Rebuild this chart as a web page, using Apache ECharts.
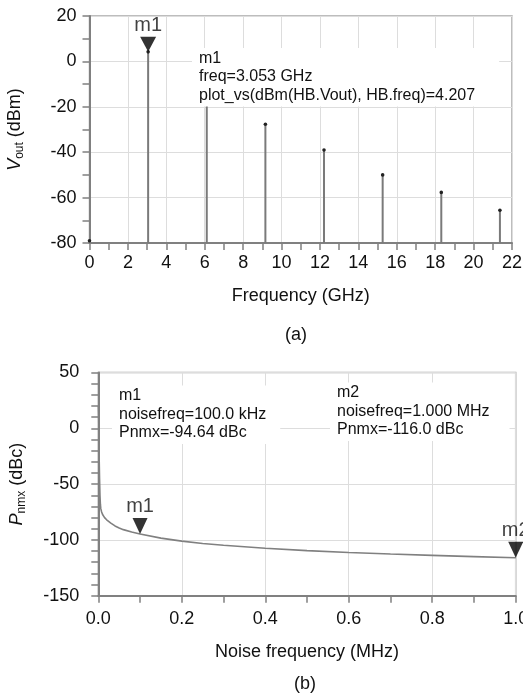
<!DOCTYPE html>
<html>
<head>
<meta charset="utf-8">
<script src="https://cdn.jsdelivr.net/npm/echarts@6/dist/echarts.min.js"></script>
<style>
html,body{margin:0;padding:0;background:#fff;}
#c{width:523px;height:698px;}
</style>
</head>
<body>
<div id="c"></div>
<script>
// ---------- Data: (a) harmonic spectrum ----------
const harmFreqGHz = [0, 3.053, 6.106, 9.159, 12.212, 15.265, 18.318, 21.371];
const harmVoutDbm = [-79, 4.207, -14, -27.7, -39.0, -50.0, -57.7, -65.6];
const markerA = [[3.053, 4.207]];
const axisAX = {min: 0, max: 22, interval: 2};
const axisAY = {min: -80, max: 20, interval: 20};

// ---------- Data: (b) phase noise ----------
const noiseFreqMHz = [0.0002, 0.001, 0.0015, 0.002, 0.003, 0.004, 0.005, 0.006, 0.008, 0.01,
  0.015, 0.02, 0.03, 0.04, 0.05, 0.06, 0.08, 0.1, 0.15, 0.2, 0.25, 0.3, 0.4, 0.5, 0.6, 0.7, 0.8, 0.9, 1.0];
const pnmxDbc = [20, 10, -10, -25, -45, -60, -68, -72, -75, -77,
  -80, -82, -85, -87.5, -89.3, -90.8, -93, -94.64, -98.4, -101.1, -103.2, -104.8, -107.5, -109.6, -111.3, -112.7, -113.9, -115.0, -116.0];
const markersB = [[0.1, -94.64, 'm1'], [1.0, -116.0, 'm2']];
const axisBX = {min: 0, max: 1, interval: 0.2};
const axisBY = {min: -150, max: 50, interval: 50};

const annotA = ['m1', 'freq=3.053 GHz', 'plot_vs(dBm(HB.Vout), HB.freq)=4.207'];
const annotB1 = ['m1', 'noisefreq=100.0 kHz', 'Pnmx=-94.64 dBc'];
const annotB2 = ['m2', 'noisefreq=1.000 MHz', 'Pnmx=-116.0 dBc'];

const FONT = '"Liberation Sans", Arial, Helvetica, sans-serif';
const AXIS_COLOR = '#808080';
const GRID_COLOR = '#dddddd';

const chart = echarts.init(document.getElementById('c'), null, {renderer: 'canvas'});

function xAxisCfg(idx, a, margin, name, gap, fmt) {
  return {
    type: 'value', gridIndex: idx, min: a.min, max: a.max, interval: a.interval,
    name: name, nameLocation: 'middle', nameGap: gap,
    nameTextStyle: {fontFamily: FONT, fontSize: 18, color: '#111'},
    axisLine: {show: true, onZero: false, lineStyle: {color: AXIS_COLOR, width: 2}},
    axisTick: {show: true, length: 7, lineStyle: {color: AXIS_COLOR, width: 1.5}},
    minorTick: {show: true, splitNumber: 2, length: 7, lineStyle: {color: AXIS_COLOR, width: 1.5}},
    splitLine: {show: true, lineStyle: {color: GRID_COLOR, width: 1}},
    axisLabel: {fontFamily: FONT, fontSize: 18, color: '#111', margin: margin, formatter: fmt, hideOverlap: false}
  };
}
function yAxisCfg(idx, a, margin, name, gap, minorSplit) {
  return {
    type: 'value', gridIndex: idx, min: a.min, max: a.max, interval: a.interval,
    name: name, nameLocation: 'middle', nameGap: gap, nameRotate: 90,
    nameTextStyle: {fontFamily: FONT, fontSize: 18, color: '#111',
      rich: {
        i: {fontFamily: FONT, fontSize: 18, fontStyle: 'italic', color: '#111'},
        sub: {fontFamily: FONT, fontSize: 12, color: '#111', padding: [9, 0, 0, 0]},
        n: {fontFamily: FONT, fontSize: 18, color: '#111'}
      }},
    axisLine: {show: true, onZero: false, lineStyle: {color: AXIS_COLOR, width: 2}},
    axisTick: {show: true, length: 7, lineStyle: {color: AXIS_COLOR, width: 1.5}},
    minorTick: {show: true, splitNumber: minorSplit, length: 7, lineStyle: {color: AXIS_COLOR, width: 1.5}},
    splitLine: {show: true, lineStyle: {color: GRID_COLOR, width: 1}},
    axisLabel: {fontFamily: FONT, fontSize: 18, color: '#111', margin: margin}
  };
}

const stemData = harmFreqGHz.map((f, i) => [f, harmVoutDbm[i]]);
const noiseData = noiseFreqMHz.map((f, i) => [f, pnmxDbc[i]]);

function annotText(lines, x, y, padR) {
  return {
    type: 'text', x: x, y: y, z: 50,
    style: {
      text: lines.join('\n'), fontFamily: FONT, fontSize: 16, lineHeight: 18.5,
      fill: '#111', backgroundColor: '#fff', padding: [1, padR, 2, 7],
      verticalAlign: 'top', align: 'left'
    }
  };
}

const option = {
  backgroundColor: '#fff',
  animation: false,
  grid: [
    {left: 89.5, right: 11, top: 16, height: 227, show: true, borderColor: '#a8a8a8', borderWidth: 1.5,
     backgroundColor: 'transparent', containLabel: false, outerBoundsMode: 'none'},
    {left: 98.3, right: 7.3, top: 372.5, height: 223.2, show: true, borderColor: '#a8a8a8', borderWidth: 1.5,
     backgroundColor: 'transparent', containLabel: false, outerBoundsMode: 'none'}
  ],
  xAxis: [
    xAxisCfg(0, axisAX, 11, 'Frequency (GHz)', 44, v => String(v)),
    xAxisCfg(1, axisBX, 14, 'Noise frequency (MHz)', 47, v => v.toFixed(1))
  ],
  yAxis: [
    yAxisCfg(0, axisAY, 13, '{i|V}{sub|out}{n| (dBm)}', 64, 2),
    yAxisCfg(1, axisBY, 19, '{i|P}{sub|nmx}{n| (dBc)}', 71, 5)
  ],
  series: [
    {
      type: 'custom', xAxisIndex: 0, yAxisIndex: 0, z: 5,
      data: stemData,
      renderItem: function (params, api) {
        const x = api.value(0), y = api.value(1);
        const p0 = api.coord([x, axisAY.min]);
        const p1 = api.coord([x, y]);
        return {
          type: 'group',
          children: [
            {type: 'line', shape: {x1: p0[0], y1: p0[1], x2: p1[0], y2: p1[1]},
             style: {stroke: '#7a7a7a', lineWidth: 2}},
            {type: 'circle', shape: {cx: p1[0], cy: p1[1], r: 1.8}, style: {fill: '#222'}}
          ]
        };
      }
    },
    {
      type: 'scatter', xAxisIndex: 0, yAxisIndex: 0, z: 60,
      data: markerA,
      symbol: 'triangle', symbolRotate: 180, symbolSize: [16, 15], symbolOffset: [0, '-50%'],
      itemStyle: {color: '#000'},
      label: {show: true, position: 'top', distance: 1, formatter: 'm1', fontFamily: FONT, fontSize: 20, color: '#111'}
    },
    {
      type: 'line', xAxisIndex: 1, yAxisIndex: 1, z: 5,
      data: noiseData, showSymbol: false, symbol: 'none', smooth: false,
      lineStyle: {color: '#808080', width: 1.6}
    },
    {
      type: 'scatter', xAxisIndex: 1, yAxisIndex: 1, z: 60,
      data: markersB,
      symbol: 'triangle', symbolRotate: 180, symbolSize: [15, 16], symbolOffset: [0, '-50%'],
      itemStyle: {color: '#000'},
      label: {show: true, position: 'top', distance: 1, formatter: p => p.data[2], fontFamily: FONT, fontSize: 20, color: '#111'}
    }
  ],
  graphic: [
    annotText(annotA, 192, 48, 24),
    annotText(annotB1, 112, 385.5, 14),
    annotText(annotB2, 330, 382.5, 20),
    {type: 'text', x: 296, y: 335, z: 50, style: {text: '(a)', fontFamily: FONT, fontSize: 18, fill: '#111', align: 'center', verticalAlign: 'middle'}},
    {type: 'text', x: 305, y: 684, z: 50, style: {text: '(b)', fontFamily: FONT, fontSize: 18, fill: '#111', align: 'center', verticalAlign: 'middle'}}
  ]
};
chart.setOption(option);
</script>
</body>
</html>
